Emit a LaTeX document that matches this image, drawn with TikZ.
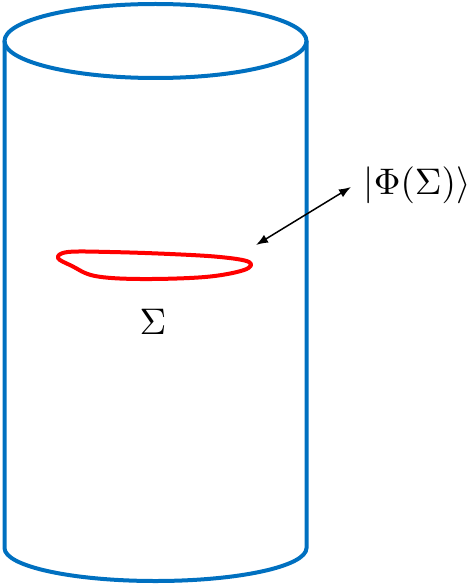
\documentclass[tikz,border=0pt]{standalone}
\usetikzlibrary{arrows.meta}
\definecolor{cylblue}{RGB}{0,112,192}
\begin{document}
\begin{tikzpicture}[x=1pt,y=-1pt,
  cyl/.style={draw=cylblue,line width=4pt},
  loopline/.style={draw=red,line width=4pt,line join=round},
  lbl/.style={inner sep=0pt}]
\useasboundingbox (0,0) rectangle (475,588);
% cylinder
\draw[cyl] (155.5,41) ellipse [x radius=151pt, y radius=37pt];
\draw[cyl] (4.5,41) -- (4.5,548) arc[start angle=180,end angle=360,x radius=151pt,y radius=33pt] -- (306.5,41);
% loop
\draw[loopline] plot[smooth cycle,tension=0.6] coordinates {(58,258) (68,252) (110,252) (170,254) (220,257) (249,262) (244,270) (205,277) (140,279) (95,276) (72,266)};
% labels
\node[lbl] (sig) at (153,322) {\scalebox{3.7}{$\Sigma$}};
\node[lbl] (ket) at (417,185) {\scalebox{3.7}{$|\Phi(\Sigma)\rangle$}};
\coordinate (a) at (256,245);
\coordinate (b) at (351,187);
\draw[line width=1.5pt,{Latex[length=12pt,width=9pt]}-{Latex[length=12pt,width=9pt]}] (a) -- (b);
\end{tikzpicture}
\end{document}
